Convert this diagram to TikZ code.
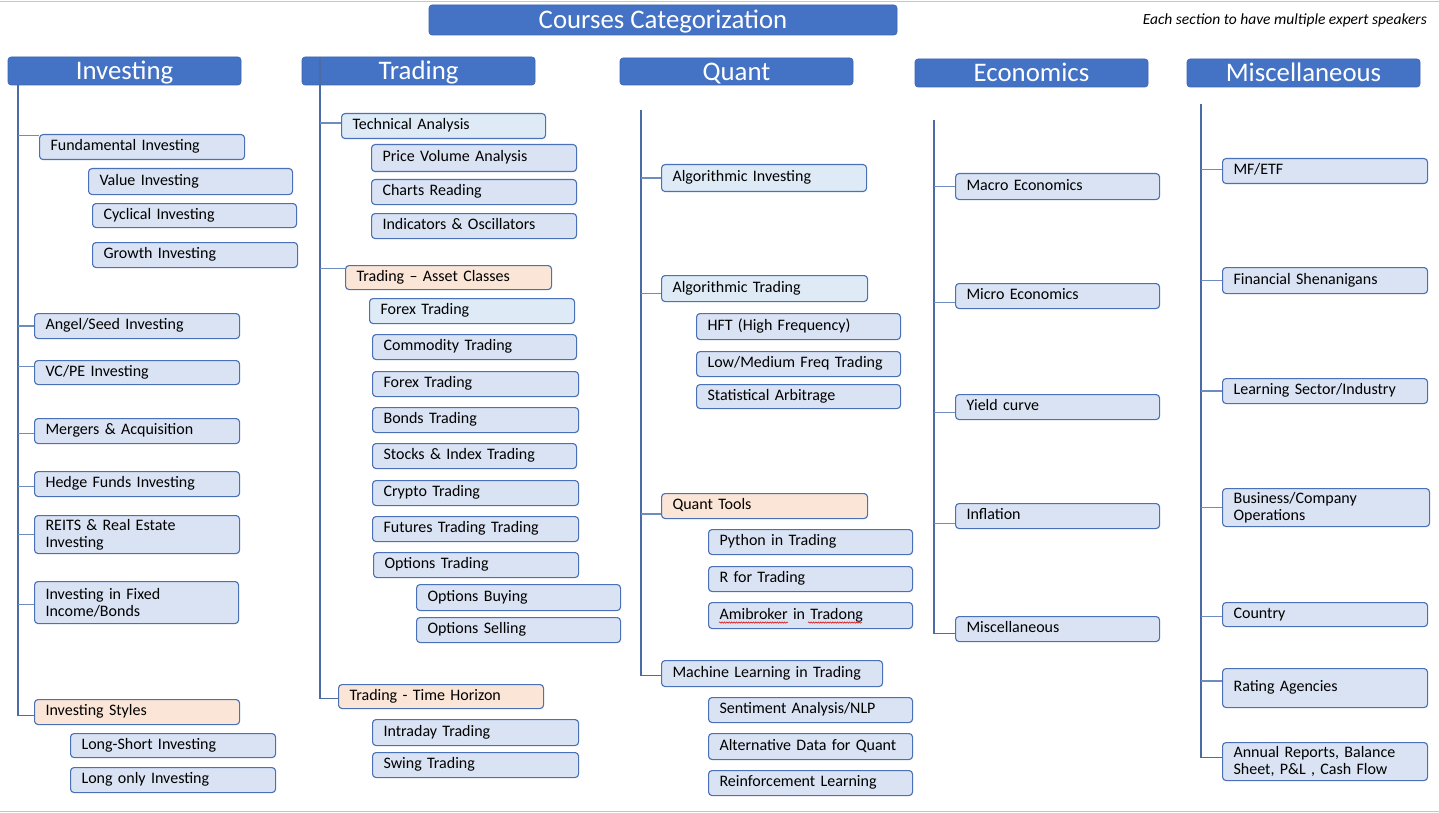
\documentclass[tikz,border=0pt]{standalone}
\usepackage{fontspec}
\setmainfont{Carlito}
\usetikzlibrary{decorations.pathmorphing}
\definecolor{hdr}{HTML}{4472C4}
\definecolor{bfill}{HTML}{DAE3F3}
\definecolor{lfill}{HTML}{DEEBF7}
\definecolor{pfill}{HTML}{FBE5D6}
\definecolor{bline}{HTML}{4A70B8}
\definecolor{vline}{HTML}{4A6BA3}
\definecolor{hline}{HTML}{6F8CC0}
\tikzset{
  hdrbox/.style={fill=hdr, draw=hdr!90!black, line width=0.6pt, rounded corners=3pt,
    text=white, font=\fontsize{26.8}{29}\selectfont, inner sep=0pt, text height=17.2pt, text depth=0pt},
  itembox/.style={draw=bline, line width=1.1pt, rounded corners=3.5pt, inner xsep=11pt,
    inner ysep=0pt, align=left, font=\fontsize{16}{17}\selectfont},
  sgl/.style={text height=10.3pt, text depth=2.5pt},
  nbox/.style={fill=bfill},
  lbox/.style={fill=lfill},
  pbox/.style={fill=pfill},
  vconn/.style={draw=vline, line width=1.4pt},
  hconn/.style={draw=hline, line width=1.2pt},
  notetext/.style={font=\fontsize{15.5}{17}\selectfont\itshape, inner sep=0pt},
  squig/.style={draw=red!85!black, line width=0.5pt, decorate, decoration={snake, amplitude=0.7pt, segment length=2.4pt}}
}
\newcommand{\itm}[7]{%
  \pgfmathsetlengthmacro{\bxw}{(#4-#2)*1pt}%
  \pgfmathsetlengthmacro{\bxh}{(#5-#3)*1pt}%
  \pgfmathsetlengthmacro{\bxt}{(#4-#2-22)*1pt}%
  \node[itembox,sgl,#6,anchor=north west,minimum width=\bxw,minimum height=\bxh,text width=\bxt] (#1) at (#2,#3) {#7};}
\newcommand{\itmtwo}[7]{%
  \pgfmathsetlengthmacro{\bxw}{(#4-#2)*1pt}%
  \pgfmathsetlengthmacro{\bxh}{(#5-#3)*1pt}%
  \pgfmathsetlengthmacro{\bxt}{(#4-#2-22)*1pt}%
  \node[itembox,#6,anchor=north west,minimum width=\bxw,minimum height=\bxh,text width=\bxt] (#1) at (#2,#3) {#7};}
\newcommand{\cn}[3]{\draw[hconn] ([yshift=#3pt]#2.west -| #1) -- ([yshift=#3pt]#2.west);}
\newcommand{\cnlast}[3]{\draw[vconn] (#1) |- ([yshift=#3pt]#2.west);}
\begin{document}
\begin{tikzpicture}[x=1pt,y=-1pt]
\useasboundingbox (0,0) rectangle (1439,813);
\fill[white] (0,0) rectangle (1439,813);
\draw[gray!45, line width=1.2pt] (0,1.5) -- (1439,1.5);
\draw[gray!45, line width=1.2pt] (0,811.5) -- (1439,811.5);

% title and note
\node[hdrbox, minimum width=468pt, minimum height=30pt] (title) at (663,20) {Courses Categorization};
\node[notetext, anchor=base east] (note) at (1427,25) {Each section to have multiple expert speakers};

% headers
\node[hdrbox, minimum width=233pt, minimum height=28pt] (hinv) at (124.5,71) {Investing};
\node[hdrbox, minimum width=233pt, minimum height=28pt] (htrd) at (418.5,71) {Trading};
\node[hdrbox, minimum width=233pt, minimum height=27pt] (hqnt) at (736.5,71.5) {Quant};
\node[hdrbox, minimum width=233pt, minimum height=28pt] (heco) at (1031.5,73) {Economics};
\node[hdrbox, minimum width=233pt, minimum height=28pt] (hmsc) at (1303.5,73) {Miscellaneous};

% column spines
\coordinate (inv) at (18,85);
\coordinate (trd) at (320,57);
\coordinate (qnt) at (641,110);
\coordinate (eco) at (934,120);
\coordinate (msc) at (1201,104);

% ---------- Investing ----------
\itm{fund}{39}{134}{244}{159}{nbox}{Fundamental Investing}
\itm{val}{88}{168}{292}{194}{nbox}{Value Investing}
\itm{cyc}{92}{203}{296}{227}{nbox}{Cyclical Investing}
\itm{gro}{92}{242}{297}{267}{nbox}{Growth Investing}
\itm{ang}{34}{313}{239}{338}{nbox}{Angel/Seed Investing}
\itm{vcpe}{34}{360}{239}{384}{nbox}{VC/PE Investing}
\itm{ma}{34}{418}{239}{443}{nbox}{Mergers \& Acquisition}
\itm{hed}{34}{471}{239}{496}{nbox}{Hedge Funds Investing}
\itmtwo{reit}{34}{515}{239}{553}{nbox}{REITS \& Real Estate\\Investing}
\itmtwo{fix}{34}{581}{238}{623}{nbox}{Investing in Fixed\\Income/Bonds}
\itm{sty}{34}{699}{239}{724}{pbox}{Investing Styles}
\itm{ls}{70}{733}{275}{757}{nbox}{Long-Short Investing}
\itm{lo}{70}{767}{275}{792}{nbox}{Long only Investing}
\cnlast{inv}{sty}{-3.5}
\cn{inv}{fund}{11.5}
\cn{inv}{ang}{0}
\cn{inv}{vcpe}{6}
\cn{inv}{ma}{-2.5}
\cn{inv}{hed}{-2.5}
\cn{inv}{reit}{0}
\cn{inv}{fix}{-2}

% ---------- Trading ----------
\itm{tech}{341}{113}{545}{138}{lbox}{Technical Analysis}
\itm{pva}{371}{144}{576}{171}{nbox}{Price Volume Analysis}
\itm{chr}{371}{179}{576}{204}{nbox}{Charts Reading}
\itm{ind}{371}{213}{576}{238}{nbox}{Indicators \& Oscillators}
\itm{asset}{345}{265}{551}{289}{pbox}{Trading – Asset Classes}
\itm{fxa}{369}{298}{574}{323}{lbox}{Forex Trading}
\itm{com}{372}{334}{576}{359}{nbox}{Commodity Trading}
\itm{fxb}{372}{371}{578}{396}{nbox}{Forex Trading}
\itm{bnd}{372}{407}{578}{432}{nbox}{Bonds Trading}
\itm{stk}{372}{443}{576}{468}{nbox}{Stocks \& Index Trading}
\itm{cry}{372}{480}{578}{505}{nbox}{Crypto Trading}
\itm{fut}{372}{516}{578}{541}{nbox}{Futures Trading Trading}
\itm{opt}{373}{552}{578}{577}{nbox}{Options Trading}
\itm{obuy}{416}{584}{620}{610}{nbox}{Options Buying}
\itm{osel}{416}{617}{620}{642}{nbox}{Options Selling}
\itm{hor}{338}{684}{543}{708}{pbox}{Trading - Time Horizon}
\itm{intra}{372}{719}{578}{745}{nbox}{Intraday Trading}
\itm{swing}{372}{752}{578}{777}{nbox}{Swing Trading}
\cnlast{trd}{hor}{-2}
\cn{trd}{tech}{3}
\cn{trd}{asset}{9}

% ---------- Quant ----------
\itm{ainv}{661}{164}{866}{191}{lbox}{Algorithmic Investing}
\itm{atrd}{661}{275}{867}{301}{lbox}{Algorithmic Trading}
\itm{hft}{696}{313}{900}{339}{nbox}{HFT (High Frequency)}
\itm{lmf}{696}{351}{900}{376}{nbox}{Low/Medium Freq Trading}
\itm{sarb}{696}{384}{900}{408}{nbox}{Statistical Arbitrage}
\itm{qt}{661}{493}{867}{518}{pbox}{Quant Tools}
\itm{py}{708}{529}{912}{554}{nbox}{Python in Trading}
\itm{rtr}{708}{566}{912}{591}{nbox}{R for Trading}
\itm{ami}{708}{602}{912}{628}{nbox}{Amibroker in Tradong}
\itm{ml}{661}{660}{882}{686}{nbox}{Machine Learning in Trading}
\itm{sent}{708}{697}{912}{722}{nbox}{Sentiment Analysis/NLP}
\itm{alt}{708}{733}{912}{759}{nbox}{Alternative Data for Quant}
\itm{rl}{708}{770}{912}{795}{nbox}{Reinforcement Learning}
\cnlast{qnt}{ml}{-2}
\cn{qnt}{ainv}{0}
\cn{qnt}{atrd}{-5}
\cn{qnt}{qt}{-8}
\draw[squig] ([xshift=11pt,yshift=-7pt]ami.west) -- ++(69,0);
\draw[squig] ([xshift=100pt,yshift=-7pt]ami.west) -- ++(54,0);

% ---------- Economics ----------
\itm{mac}{955}{173}{1159}{199}{nbox}{Macro Economics}
\itm{mic}{955}{283}{1159}{308}{nbox}{Micro Economics}
\itm{yc}{955}{394}{1159}{419}{nbox}{Yield curve}
\itm{inf}{955}{503}{1159}{528}{nbox}{Inflation}
\itm{emisc}{955}{616}{1159}{641}{nbox}{Miscellaneous}
\cnlast{eco}{emisc}{-4.5}
\cn{eco}{mac}{0}
\cn{eco}{mic}{-6.5}
\cn{eco}{yc}{-5.5}
\cn{eco}{inf}{-7.5}

% ---------- Miscellaneous ----------
\itm{mf}{1222}{158}{1427}{183}{nbox}{MF/ETF}
\itm{fs}{1222}{267}{1427}{293}{nbox}{Financial Shenanigans}
\itm{lsi}{1222}{378}{1427}{403}{nbox}{Learning Sector/Industry}
\itmtwo{bco}{1222}{488}{1429}{526}{nbox}{Business/Company\\Operations}
\itm{cty}{1222}{602}{1427}{626}{nbox}{Country}
\itm{rat}{1222}{668}{1427}{707}{nbox}{Rating Agencies}
\itmtwo{ann}{1222}{742}{1427}{780}{nbox}{Annual Reports, Balance\\Sheet, P\&L , Cash Flow}
\cnlast{msc}{ann}{4}
\cn{msc}{mf}{1.5}
\cn{msc}{fs}{0}
\cn{msc}{lsi}{0}
\cn{msc}{bco}{0}
\cn{msc}{cty}{-2}
\cn{msc}{rat}{7}
\end{tikzpicture}
\end{document}
